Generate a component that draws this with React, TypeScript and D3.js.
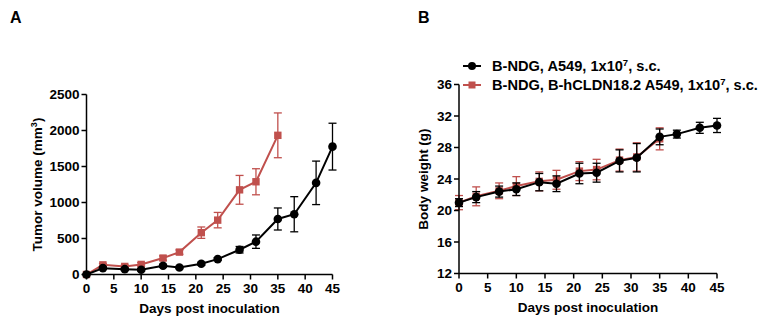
import React from "react";
import * as d3 from "d3";

const daysBlackA = [0, 3, 7, 10, 14, 17, 21, 24, 28, 31, 35, 38, 42, 45];
const volBlack = [0, 88, 74, 65, 121, 98, 150, 214, 344, 456, 771, 837, 1273, 1776];
const volBlackErr = [0, 15, 15, 15, 20, 15, 20, 20, 45, 93, 153, 244, 302, 325];
const daysRedA = [0, 3, 7, 10, 14, 17, 21, 24, 28, 31, 35];
const volRed = [0, 134, 112, 140, 228, 311, 581, 755, 1176, 1288, 1933];
const volRedErr = [0, 20, 20, 25, 30, 30, 79, 107, 200, 181, 311];

const wtBlack = [21.0, 21.7, 22.4, 22.7, 23.6, 23.4, 24.7, 24.8, 26.3, 26.7, 29.35, 29.7, 30.5, 30.8];
const wtBlackErr = [0.5, 0.7, 0.7, 0.8, 1.1, 1.0, 1.3, 1.2, 1.4, 1.8, 1.0, 0.5, 0.7, 0.9];
const wtRed = [21.0, 21.8, 22.5, 23.1, 23.7, 23.9, 25.0, 25.2, 26.4, 26.8, 29.1];
const wtRedErr = [0.9, 1.2, 1.0, 1.2, 1.2, 1.2, 1.2, 1.3, 1.4, 1.8, 1.4];

const xTicks = [0, 5, 10, 15, 20, 25, 30, 35, 40, 45];
const yTicksA = [0, 500, 1000, 1500, 2000, 2500];
const yTicksB = [12, 16, 20, 24, 28, 32, 36];

const legendLabels = ["B-NDG, A549, 1x10", "B-NDG, B-hCLDN18.2 A549, 1x10"];

const RED = "#c0504d";
const BLACK = "#000";
const FONT = "'Liberation Sans', Arial, sans-serif";

type Series = { days: number[]; vals: number[]; errs: number[]; color: string; shape: "circle" | "square" };

function Panel({ x, y, yTicks, series, yTitle, titleOffset }: {
  x: d3.ScaleLinear<number, number>;
  y: d3.ScaleLinear<number, number>;
  yTicks: number[];
  series: Series[];
  yTitle: React.ReactNode;
  titleOffset: number;
}) {
  const [x0, x1] = x.range();
  const [yb, yt] = y.range();
  const line = d3.line<[number, number]>().x(d => x(d[0])).y(d => y(d[1]));
  return (
    <g>
      {series.map((s, si) => {
        const pts = s.days.map((d, i) => [d, s.vals[i]] as [number, number]);
        return (
          <g key={si}>
            <path d={line(pts) || ""} fill="none" stroke={s.color} strokeWidth={2} />
            {s.days.map((d, i) => {
              const cx = x(d);
              const lo = y(s.vals[i] - s.errs[i]);
              const hi = y(s.vals[i] + s.errs[i]);
              return (
                <g key={i} stroke={s.color} strokeWidth={1.3}>
                  <line x1={cx} x2={cx} y1={lo} y2={hi} />
                  <line x1={cx - 4} x2={cx + 4} y1={lo} y2={lo} />
                  <line x1={cx - 4} x2={cx + 4} y1={hi} y2={hi} />
                </g>
              );
            })}
            {s.days.map((d, i) =>
              s.shape === "circle" ? (
                <circle key={"m" + i} cx={x(d)} cy={y(s.vals[i])} r={4.3} fill={s.color} />
              ) : (
                <rect key={"m" + i} x={x(d) - 3.7} y={y(s.vals[i]) - 3.7} width={7.4} height={7.4} fill={s.color} />
              )
            )}
          </g>
        );
      })}
      <line x1={x0} x2={x0} y1={yb} y2={yt} stroke="#000" strokeWidth={1.5} />
      <line x1={x0} x2={x1} y1={yb} y2={yb} stroke="#000" strokeWidth={1.5} />
      {yTicks.map(t => (
        <g key={"y" + t}>
          <line x1={x0 - 5} x2={x0} y1={y(t)} y2={y(t)} stroke="#000" strokeWidth={1.5} />
          <text x={x0 - 7} y={y(t)} dy="0.36em" textAnchor="end" fontSize={13.5} fontWeight="bold" fontFamily={FONT}>{t}</text>
        </g>
      ))}
      {xTicks.map(t => (
        <g key={"x" + t}>
          <line x1={x(t)} x2={x(t)} y1={yb} y2={yb + 5} stroke="#000" strokeWidth={1.5} />
          <text x={x(t)} y={yb + 18} textAnchor="middle" fontSize={13.5} fontWeight="bold" fontFamily={FONT}>{t}</text>
        </g>
      ))}
      <text x={(x0 + x1) / 2} y={yb + 38} textAnchor="middle" fontSize={13.5} fontWeight="bold" fontFamily={FONT}>Days post inoculation</text>
      <text transform={`translate(${x0 - titleOffset},${(yb + yt) / 2}) rotate(-90)`} textAnchor="middle" fontSize={13.5} fontWeight="bold" fontFamily={FONT}>{yTitle}</text>
    </g>
  );
}

export default function App() {
  const xA = d3.scaleLinear().domain([0, 45]).range([86.5, 332.5]);
  const yA = d3.scaleLinear().domain([0, 2500]).range([274.5, 94.5]);
  const xB = d3.scaleLinear().domain([0, 45]).range([459, 717]);
  const yB = d3.scaleLinear().domain([12, 36]).range([273.5, 84.5]);

  const seriesA: Series[] = [
    { days: daysRedA, vals: volRed, errs: volRedErr, color: RED, shape: "square" },
    { days: daysBlackA, vals: volBlack, errs: volBlackErr, color: BLACK, shape: "circle" },
  ];
  const seriesB: Series[] = [
    { days: daysRedA, vals: wtRed, errs: wtRedErr, color: RED, shape: "square" },
    { days: daysBlackA, vals: wtBlack, errs: wtBlackErr, color: BLACK, shape: "circle" },
  ];

  const legend = [
    { label: legendLabels[0], color: BLACK, shape: "circle", y: 66 },
    { label: legendLabels[1], color: RED, shape: "square", y: 85 },
  ];

  return (
    <svg width={764} height={326} style={{ position: "absolute", left: 0, top: 0, background: "#fff" }}>
      <rect width={764} height={326} fill="#fff" />
      <text x={10} y={23} fontSize={16} fontWeight="bold" fontFamily={FONT}>A</text>
      <text x={418} y={23} fontSize={16} fontWeight="bold" fontFamily={FONT}>B</text>
      <Panel x={xA} y={yA} yTicks={yTicksA} series={seriesA} titleOffset={45}
        yTitle={<>Tumor volume (mm<tspan dy={-5} fontSize={9}>3</tspan><tspan dy={5}>)</tspan></>} />
      <Panel x={xB} y={yB} yTicks={yTicksB} series={seriesB} titleOffset={31}
        yTitle={<>Body weight (g)</>} />
      {legend.map((l, i) => (
        <g key={i}>
          <line x1={463} x2={481} y1={l.y} y2={l.y} stroke={l.color} strokeWidth={2} />
          {l.shape === "circle" ? (
            <circle cx={472} cy={l.y} r={4} fill={l.color} />
          ) : (
            <rect x={468.5} y={l.y - 3.5} width={7} height={7} fill={l.color} />
          )}
          <text x={492} y={l.y} dy="0.36em" fontSize={14.6} fontWeight="bold" fontFamily={FONT}>
            {l.label}<tspan dy={-5} fontSize={9.5}>7</tspan><tspan dy={5}>, s.c.</tspan>
          </text>
        </g>
      ))}
    </svg>
  );
}
